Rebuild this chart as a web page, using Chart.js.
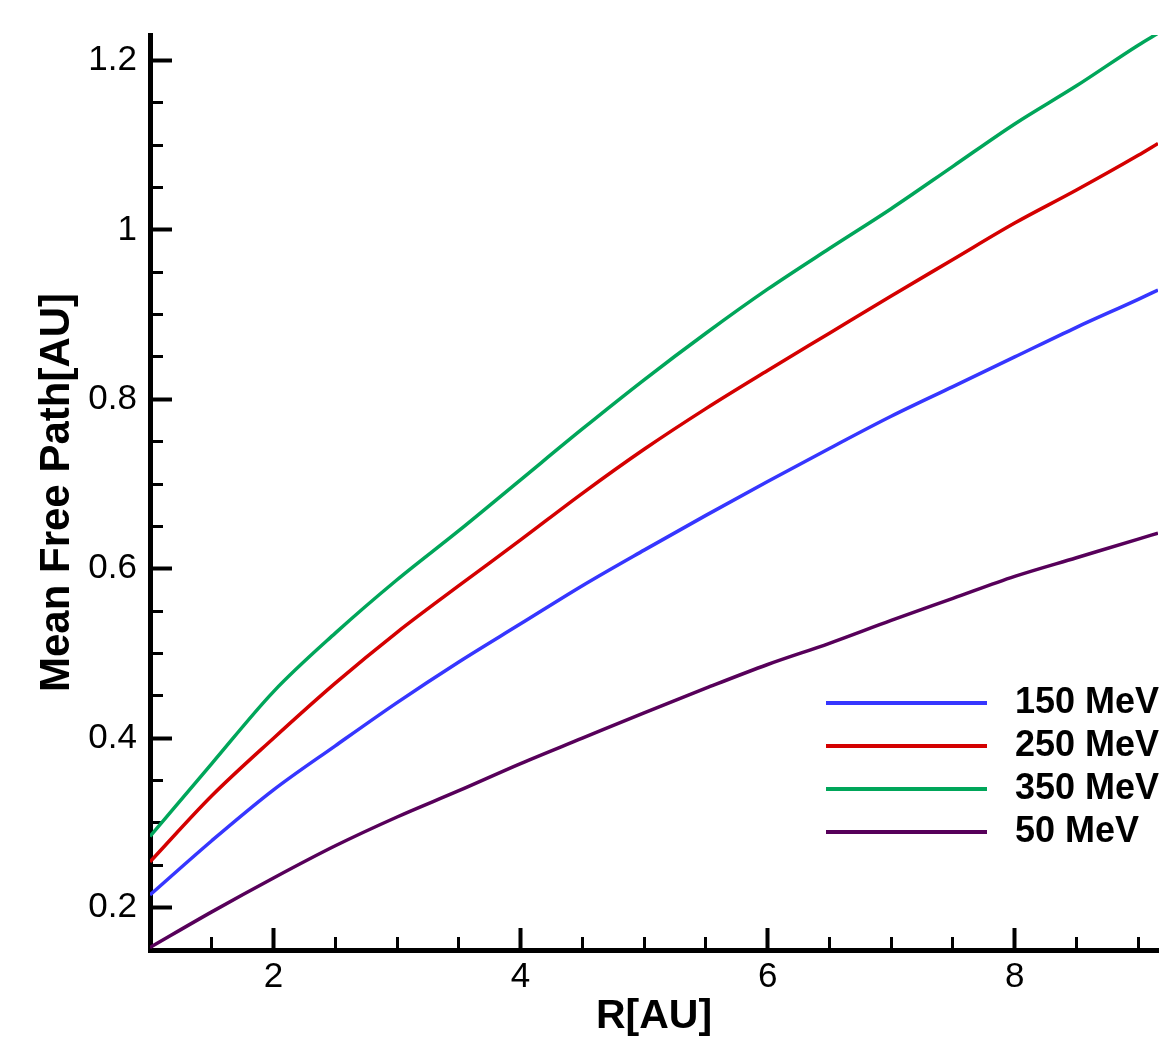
<!DOCTYPE html>
<html>
<head>
<meta charset="utf-8">
<title>Mean Free Path</title>
<script src="https://cdn.jsdelivr.net/npm/chart.js@4.4.1/dist/chart.umd.min.js"></script>
<style>
  html, body { margin: 0; padding: 0; background: #fff; }
  canvas { display: block; }
</style>
</head>
<body>
<canvas id="mfpChart" width="1170" height="1041"></canvas>
<script>
// radial distance R [AU]
const radius = [1, 1.5, 2, 2.5, 3, 3.5, 4, 4.5, 5, 5.5, 6, 6.5, 7, 7.5, 8, 8.5, 9, 9.16];

// mean free path [AU] for each energy
const mfp150 = [0.215, 0.279, 0.339, 0.391, 0.442, 0.490, 0.535, 0.580, 0.622, 0.663, 0.703, 0.742, 0.780, 0.815, 0.850, 0.885, 0.918, 0.929];
const mfp250 = [0.254, 0.332, 0.400, 0.465, 0.525, 0.580, 0.634, 0.689, 0.741, 0.789, 0.834, 0.878, 0.922, 0.965, 1.008, 1.047, 1.088, 1.102];
const mfp350 = [0.284, 0.370, 0.455, 0.524, 0.587, 0.645, 0.705, 0.765, 0.823, 0.878, 0.930, 0.978, 1.025, 1.075, 1.125, 1.170, 1.218, 1.232];
const mfp50  = [0.153, 0.195, 0.235, 0.273, 0.307, 0.338, 0.370, 0.400, 0.430, 0.459, 0.487, 0.512, 0.539, 0.565, 0.591, 0.613, 0.635, 0.642];

const seriesNames = ['150 MeV', '250 MeV', '350 MeV', '50 MeV'];
const seriesColors = ['#3636ff', '#d40000', '#00a65a', '#57005a'];

// axis ticks
const xMajor = [2, 4, 6, 8];
const yMajor = [0.2, 0.4, 0.6, 0.8, 1, 1.2];
const xMinorStep = 0.5;
const yMinorStep = 0.05;

const xRange = [1, 9.16];
const yRange = [0.15, 1.23];

const FONT = "'Liberation Sans', Arial, Helvetica, sans-serif";

function steps(from, to, step) {
  const out = [];
  for (let v = Math.ceil(from / step - 1e-9) * step; v <= to + 1e-9; v += step) {
    out.push(Math.round(v * 1000) / 1000);
  }
  return out;
}

function toPoints(ys) {
  return radius.map((r, i) => ({ x: r, y: ys[i] }));
}

// legend drawn inside the plot, lower right
const curveLegend = {
  id: 'curveLegend',
  afterDatasetsDraw(chart, args, opts) {
    const ctx = chart.ctx;
    ctx.save();
    ctx.font = opts.font;
    ctx.textBaseline = 'middle';
    ctx.textAlign = 'left';
    chart.data.datasets.forEach((ds, i) => {
      const y = opts.top + i * opts.rowGap;
      ctx.strokeStyle = ds.borderColor;
      ctx.lineWidth = opts.lineWidth;
      ctx.beginPath();
      ctx.moveTo(opts.x0, y);
      ctx.lineTo(opts.x1, y);
      ctx.stroke();
      ctx.fillStyle = '#000';
      ctx.fillText(ds.label, opts.textX, y);
    });
    ctx.restore();
  }
};

function noPadding(scale) {
  scale.paddingTop = 0;
  scale.paddingBottom = 0;
  scale.paddingLeft = 0;
  scale.paddingRight = 0;
}

const datasets = [mfp150, mfp250, mfp350, mfp50].map((ys, i) => ({
  label: seriesNames[i],
  data: toPoints(ys),
  borderColor: seriesColors[i],
  borderWidth: 3.5,
  pointRadius: 0,
  fill: false,
  cubicInterpolationMode: 'monotone'
}));

new Chart(document.getElementById('mfpChart'), {
  type: 'line',
  data: { datasets: datasets },
  plugins: [curveLegend],
  options: {
    responsive: false,
    animation: false,
    layout: { padding: { top: 35, right: 12, left: 0, bottom: 0 } },
    plugins: {
      legend: { display: false },
      tooltip: { enabled: false },
      curveLegend: {
        x0: 826, x1: 987, textX: 1015, top: 703, rowGap: 43,
        lineWidth: 4,
        font: 'bold 36px ' + FONT
      }
    },
    scales: {
      x: {
        type: 'linear',
        position: 'bottom',
        weight: 1,
        min: xRange[0],
        max: xRange[1],
        afterBuildTicks: s => { s.ticks = xMajor.map(v => ({ value: v })); },
        afterFit: s => { s.height = 91; noPadding(s); },
        border: { display: true, color: '#000', width: 5 },
        grid: { drawOnChartArea: false, tickLength: -22, tickWidth: 4, color: '#000' },
        ticks: {
          autoSkip: false, maxRotation: 0, padding: 28, color: '#000',
          font: { family: FONT, size: 35 },
          callback: v => String(v)
        },
        title: {
          display: true, text: 'R[AU]', color: '#000',
          font: { family: FONT, size: 41, weight: 'bold' },
          padding: { top: 0, bottom: 0 }
        }
      },
      xMinor: {
        type: 'linear',
        position: 'bottom',
        weight: 0,
        min: xRange[0],
        max: xRange[1],
        afterBuildTicks: s => {
          s.ticks = steps(xRange[0], xRange[1], xMinorStep)
            .filter(v => !xMajor.includes(v)).map(v => ({ value: v }));
        },
        afterFit: s => { s.height = 0; noPadding(s); },
        border: { display: false },
        grid: { drawOnChartArea: false, tickLength: -13, tickWidth: 3, color: '#000' },
        ticks: { display: false, autoSkip: false }
      },
      y: {
        type: 'linear',
        position: 'left',
        weight: 1,
        min: yRange[0],
        max: yRange[1],
        afterBuildTicks: s => { s.ticks = yMajor.map(v => ({ value: v })); },
        afterFit: s => { s.width = 150; noPadding(s); },
        border: { display: true, color: '#000', width: 5 },
        grid: { drawOnChartArea: false, tickLength: -22, tickWidth: 4, color: '#000' },
        ticks: {
          autoSkip: false, padding: 35, color: '#000',
          font: { family: FONT, size: 35 },
          callback: v => String(v)
        },
        title: {
          display: true, text: 'Mean Free Path[AU]', color: '#000',
          font: { family: FONT, size: 42, weight: 'bold' },
          padding: { top: 32, bottom: 0 }
        }
      },
      yMinor: {
        type: 'linear',
        position: 'left',
        weight: 0,
        min: yRange[0],
        max: yRange[1],
        afterBuildTicks: s => {
          s.ticks = steps(yRange[0], yRange[1], yMinorStep)
            .filter(v => !yMajor.some(m => Math.abs(m - v) < 1e-6)).map(v => ({ value: v }));
        },
        afterFit: s => { s.width = 0; noPadding(s); },
        border: { display: false },
        grid: { drawOnChartArea: false, tickLength: -13, tickWidth: 3, color: '#000' },
        ticks: { display: false, autoSkip: false }
      }
    }
  }
});
</script>
</body>
</html>
